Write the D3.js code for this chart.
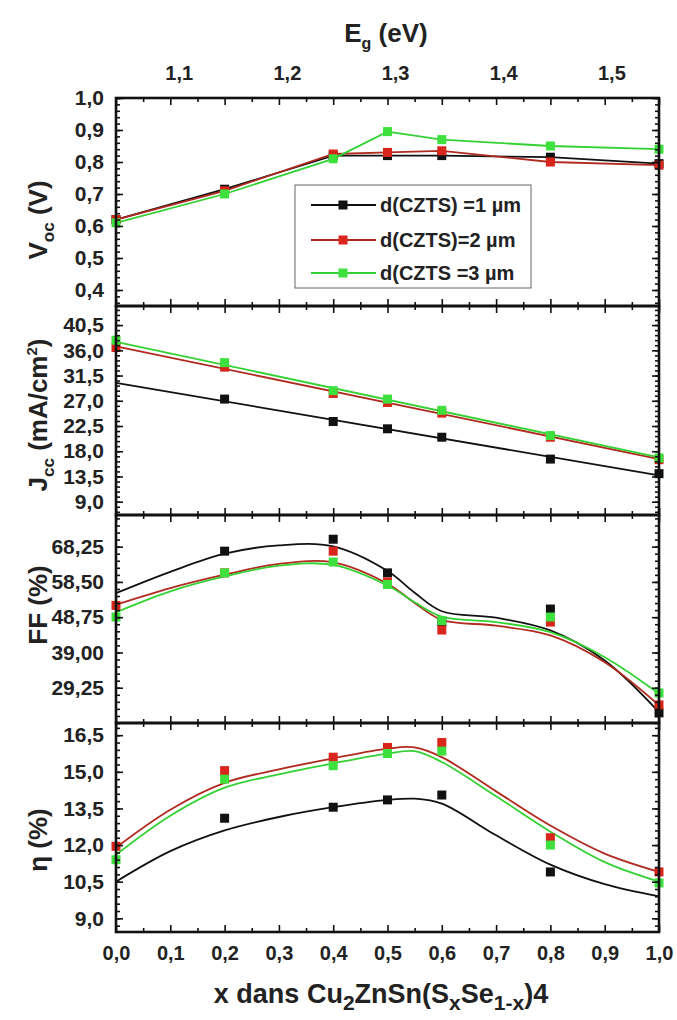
<!DOCTYPE html>
<html><head><meta charset="utf-8">
<script src="https://cdn.jsdelivr.net/npm/d3@7"></script>
<style>
body{margin:0;background:#fff}
svg{display:block}
text{font-family:"Liberation Sans",Arial,sans-serif;font-weight:bold;fill:#222}
</style>
</head><body>
<svg id="c" width="677" height="1020"></svg>
<script>
// ---------- data ----------
const seriesNames = ["d(CZTS) =1 µm", "d(CZTS)=2 µm", "d(CZTS =3 µm"];
const xVals = [0, 0.2, 0.4, 0.5, 0.6, 0.8, 1.0];

const vocD1 = [0.62, 0.715, 0.82, 0.82, 0.82, 0.815, 0.795];
const vocD2 = [0.62, 0.71, 0.825, 0.83, 0.835, 0.80, 0.79];
const vocD3 = [0.61, 0.70, 0.81, 0.895, 0.87, 0.85, 0.84];

const jscD1 = [null, 27.3, 23.3, 22.0, 20.5, 16.6, 14.0];
const jscD2 = [36.5, 33.0, 28.3, 26.7, 24.8, 20.5, 16.5];
const jscD3 = [37.8, 33.8, 28.8, 27.3, 25.3, 20.8, 16.8];
const jscFitX = [0, 1];
const jscFit1 = [30.2, 13.7];
const jscFit2 = [36.7, 16.6];
const jscFit3 = [37.5, 16.9];

const ffD1 = [null, 67.0, 70.3, 61.0, 47.5, 51.0, 22.3];
const ffD2 = [52.0, 61.0, 67.0, 58.5, 45.2, 47.4, 24.5];
const ffD3 = [48.8, 61.0, 64.0, 57.8, 47.8, 48.8, 27.8];

const etaD1 = [null, 13.1, 13.55, 13.85, 14.05, 10.9, null];
const etaD2 = [11.95, 15.05, 15.6, 16.0, 16.2, 12.3, 10.9];
const etaD3 = [11.4, 14.7, 15.25, 15.75, 15.85, 12.0, 10.45];

const fitX = [0, 0.1, 0.2, 0.3, 0.4, 0.5, 0.55, 0.6, 0.7, 0.8, 0.9, 1.0];
const ffFit1 = [55.4, 61.3, 66.3, 68.6, 68.3, 61.5, 55.5, 50.4, 48.6, 45.1, 36.8, 22.5];
const ffFit2 = [52.2, 56.8, 60.5, 63.5, 63.9, 58.0, 52.7, 48.0, 46.4, 43.7, 36.3, 24.4];
const ffFit3 = [50.1, 55.9, 60.0, 63.0, 63.2, 57.5, 52.9, 48.9, 47.4, 44.6, 37.7, 27.6];
const etaFit1 = [10.5, 11.75, 12.6, 13.15, 13.55, 13.85, 13.9, 13.7, 12.4, 11.2, 10.4, 9.9];
const etaFit2 = [11.9, 13.45, 14.55, 15.1, 15.55, 15.95, 16.0, 15.6, 14.2, 12.8, 11.65, 10.9];
const etaFit3 = [11.6, 13.2, 14.35, 14.9, 15.35, 15.75, 15.85, 15.4, 14.0, 12.55, 11.3, 10.5];

const xTicks = [0, 0.1, 0.2, 0.3, 0.4, 0.5, 0.6, 0.7, 0.8, 0.9, 1.0];
const egTicks = [1.1, 1.2, 1.3, 1.4, 1.5];
const vocTicks = [0.4, 0.5, 0.6, 0.7, 0.8, 0.9, 1.0];
const jscTicks = [9.0, 13.5, 18.0, 22.5, 27.0, 31.5, 36.0, 40.5];
const ffTicks = [29.25, 39.0, 48.75, 58.5, 68.25];
const etaTicks = [9.0, 10.5, 12.0, 13.5, 15.0, 16.5];

// ---------- styles ----------
const markerColors = ["#111111", "#d9261c", "#3ee03e"];
const lineColors = ["#111111", "#b02a20", "#34d134"];
const L = 116, R = 659;

const svg = d3.select("#c");
const x = d3.scaleLinear().domain([0, 1]).range([L, R]);
const eg = d3.scaleLinear().domain([1.042, 1.544]).range([L, R]);
const comma = (n) => (v) => v.toFixed(n).replace(".", ",");

const panels = [
  {top: 98, bottom: 306, domain: [0.35, 1.0], ticks: vocTicks, dec: 1,
   marks: [vocD1, vocD2, vocD3], lx: xVals, lines: [vocD1, vocD2, vocD3], curve: d3.curveLinear},
  {top: 306, bottom: 515, domain: [6.63, 43.9], ticks: jscTicks, dec: 1,
   marks: [jscD1, jscD2, jscD3], lx: jscFitX, lines: [jscFit1, jscFit2, jscFit3], curve: d3.curveLinear},
  {top: 515, bottom: 723, domain: [19.5, 77.0], ticks: ffTicks, dec: 2,
   marks: [ffD1, ffD2, ffD3], lx: fitX, lines: [ffFit1, ffFit2, ffFit3], curve: d3.curveCatmullRom.alpha(0.5)},
  {top: 723, bottom: 932, domain: [8.44, 17.0], ticks: etaTicks, dec: 1,
   marks: [etaD1, etaD2, etaD3], lx: fitX, lines: [etaFit1, etaFit2, etaFit3], curve: d3.curveCatmullRom.alpha(0.5)}
];

function minorOf(ticks, domain) {
  const step = (ticks[1] - ticks[0]) / 5;
  const out = [];
  for (let v = ticks[0] - 10 * step; v <= domain[1] + 1e-9; v += step) {
    if (v >= domain[0] - 1e-9) out.push(+v.toFixed(6));
  }
  return out;
}
const xMinor = xTicks.slice(0, -1).map(v => +(v + 0.05).toFixed(2));

function styleAxis(size) {
  return (g) => {
    g.select(".domain").remove();
    g.selectAll(".tick line").attr("stroke", "#111").attr("stroke-width", 1.6);
    g.selectAll("text").attr("font-size", size).attr("fill", "#222");
  };
}

panels.forEach((p, i) => {
  const y = d3.scaleLinear().domain(p.domain).range([p.bottom, p.top]);
  const g = svg.append("g");

  p.lines.forEach((arr, s) => {
    const pts = p.lx.map((xv, k) => [xv, arr[k]]).filter(d => d[1] != null);
    g.append("path").datum(pts)
      .attr("fill", "none").attr("stroke", lineColors[s]).attr("stroke-width", 1.8)
      .attr("d", d3.line().x(d => x(d[0])).y(d => y(d[1])).curve(p.curve));
  });
  p.marks.forEach((arr, s) => {
    const pts = xVals.map((xv, k) => [xv, arr[k]]).filter(d => d[1] != null);
    g.selectAll(null).data(pts).enter().append("rect")
      .attr("x", d => x(d[0]) - 4.5).attr("y", d => y(d[1]) - 4.5)
      .attr("width", 9).attr("height", 9).attr("fill", markerColors[s]);
  });

  g.append("g").attr("transform", `translate(${L},0)`)
    .call(d3.axisLeft(y).tickValues(p.ticks).tickSize(-7).tickPadding(12).tickFormat(comma(p.dec)))
    .call(styleAxis(21));
  g.append("g").attr("transform", `translate(${L},0)`)
    .call(d3.axisLeft(y).tickValues(minorOf(p.ticks, p.domain)).tickSize(-4).tickFormat(""))
    .call(styleAxis(20));
  g.append("g").attr("transform", `translate(${R},0)`)
    .call(d3.axisRight(y).tickValues(p.ticks).tickSize(-7).tickFormat(""))
    .call(styleAxis(20));
  g.append("g").attr("transform", `translate(${R},0)`)
    .call(d3.axisRight(y).tickValues(minorOf(p.ticks, p.domain)).tickSize(-4).tickFormat(""))
    .call(styleAxis(20));

  const last = i === panels.length - 1;
  g.append("g").attr("transform", `translate(0,${p.bottom})`)
    .call(d3.axisBottom(x).tickValues(xTicks).tickSize(-7).tickPadding(14)
      .tickFormat(last ? comma(1) : ""))
    .call(styleAxis(20));
  g.append("g").attr("transform", `translate(0,${p.bottom})`)
    .call(d3.axisBottom(x).tickValues(xMinor).tickSize(-4).tickFormat(""))
    .call(styleAxis(20));
  g.append("g").attr("transform", `translate(0,${p.top})`)
    .call(d3.axisTop(x).tickValues(xTicks).tickSize(-7).tickFormat(""))
    .call(styleAxis(20));
  g.append("g").attr("transform", `translate(0,${p.top})`)
    .call(d3.axisTop(x).tickValues(xMinor).tickSize(-4).tickFormat(""))
    .call(styleAxis(20));

  g.append("rect").attr("x", L).attr("y", p.top).attr("width", R - L).attr("height", p.bottom - p.top)
    .attr("fill", "none").attr("stroke", "#111").attr("stroke-width", 2.6);
});

svg.append("g").attr("transform", `translate(0,98)`)
  .call(d3.axisTop(eg).tickValues(egTicks).tickSize(0).tickPadding(18).tickFormat(comma(1)))
  .call(styleAxis(20));

const eT = svg.append("text").attr("x", 386).attr("y", 42).attr("text-anchor", "middle").attr("font-size", 26);
eT.append("tspan").text("E");
eT.append("tspan").attr("dy", 7).attr("font-size", 16).text("g");
eT.append("tspan").attr("dy", -7).text(" (eV)");

function yTitle(cy, build) {
  const t = svg.append("text").attr("transform", `translate(47,${cy}) rotate(-90)`)
    .attr("text-anchor", "middle").attr("font-size", 26);
  build(t);
}
yTitle(220, t => {
  t.append("tspan").text("V");
  t.append("tspan").attr("dy", 7).attr("font-size", 17).text("oc");
  t.append("tspan").attr("dy", -7).text(" (V)");
});
yTitle(415, t => {
  t.append("tspan").text("J");
  t.append("tspan").attr("dy", 7).attr("font-size", 17).text("cc");
  t.append("tspan").attr("dy", -7).text(" (mA/cm");
  t.append("tspan").attr("dy", -10).attr("font-size", 15).text("2");
  t.append("tspan").attr("dy", 10).text(")");
});
yTitle(605, t => t.text("FF (%)"));
yTitle(840, t => t.text("η (%)"));

const xt = svg.append("text").attr("x", 381).attr("y", 1003).attr("text-anchor", "middle").attr("font-size", 27);
xt.append("tspan").text("x dans Cu");
xt.append("tspan").attr("dy", 7).attr("font-size", 21).text("2");
xt.append("tspan").attr("dy", -7).text("ZnSn(S");
xt.append("tspan").attr("dy", 7).attr("font-size", 21).text("x");
xt.append("tspan").attr("dy", -7).text("Se");
xt.append("tspan").attr("dy", 7).attr("font-size", 21).text("1-x");
xt.append("tspan").attr("dy", -7).text(")4");

const lg = svg.append("g");
lg.append("rect").attr("x", 295).attr("y", 185).attr("width", 236).attr("height", 103)
  .attr("fill", "#fff").attr("stroke", "#666").attr("stroke-width", 1);
const rowY = [205, 240, 273];
seriesNames.forEach((name, s) => {
  lg.append("line").attr("x1", 311).attr("x2", 376).attr("y1", rowY[s]).attr("y2", rowY[s])
    .attr("stroke", lineColors[s]).attr("stroke-width", 1.8);
  lg.append("rect").attr("x", 343 - 4.5).attr("y", rowY[s] - 4.5).attr("width", 9).attr("height", 9)
    .attr("fill", markerColors[s]);
  lg.append("text").attr("x", 380).attr("y", rowY[s] + 7).attr("font-size", 20).text(name);
});
</script>
</body></html>
